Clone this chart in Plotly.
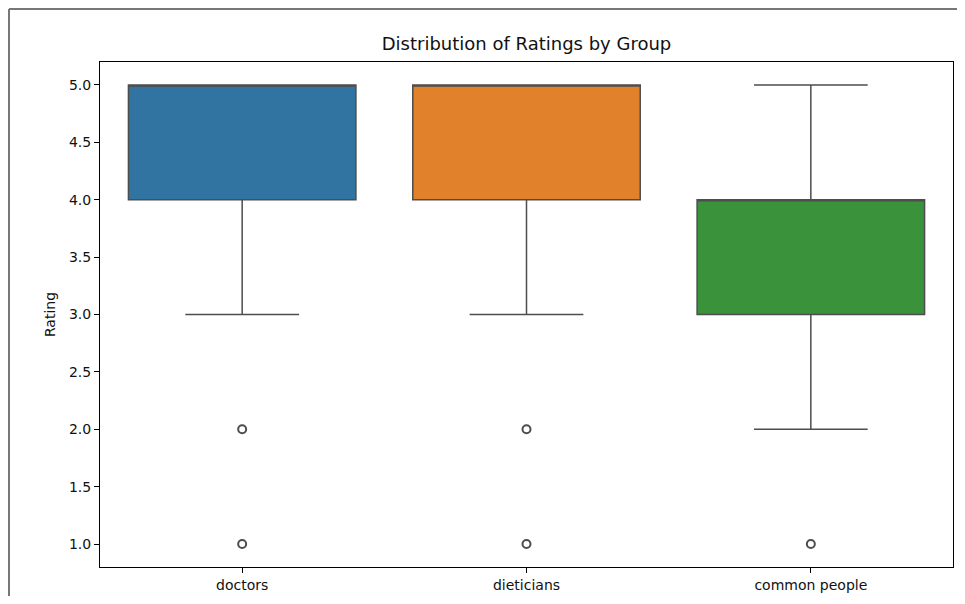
import plotly.graph_objects as go

groups = ["doctors", "dieticians", "common people"]
q1 = [4.0, 4.0, 3.0]
median = [5.0, 5.0, 4.0]
q3 = [5.0, 5.0, 4.0]
lower_fence = [3.0, 3.0, 2.0]
upper_fence = [5.0, 5.0, 5.0]
outliers = {
    "doctors": [1.0, 2.0],
    "dieticians": [1.0, 2.0],
    "common people": [1.0],
}
colors = ["#3274a1", "#e1812c", "#3a923a"]
line_color = "#4d4d4d"

fig = go.Figure()
for i, g in enumerate(groups):
    fig.add_trace(go.Box(
        x=[g], q1=[q1[i]], median=[median[i]], q3=[q3[i]],
        lowerfence=[lower_fence[i]], upperfence=[upper_fence[i]],
        fillcolor=colors[i], line=dict(color=line_color, width=1.5),
        width=0.8, whiskerwidth=0.5, boxpoints=False, showlegend=False,
    ))
    fig.add_trace(go.Scatter(
        x=[g] * len(outliers[g]), y=outliers[g], mode="markers",
        marker=dict(symbol="circle-open", size=8, color=line_color,
                    line=dict(width=2, color=line_color)),
        showlegend=False, hoverinfo="skip",
    ))

OFF = 8  # page body margin
L, R, T, B = 100 - OFF, 953 - OFF, 62 - OFF, 567 - OFF
W, H = 965 - 2 * OFF, 604 - 2 * OFF
px = lambda x: (x - L) / (R - L)
py = lambda y: (B - y) / (B - T)

fig.update_layout(
    width=W, height=H,
    margin=dict(l=L, r=W - R, t=T, b=H - B, pad=0),
    plot_bgcolor="white", paper_bgcolor="white",
    font=dict(family="DejaVu Sans", size=14, color="#111111"),
    title=dict(text="Distribution of Ratings by Group", xref="paper", x=0.5, xanchor="center",
               yref="container", y=1 - (44 - OFF) / H, yanchor="middle",
               font=dict(size=18, color="#111111")),
    xaxis=dict(type="category", range=[-0.5, 2.5], showline=True, mirror=True,
               linecolor="black", linewidth=1, ticks="outside", ticklen=5,
               tickcolor="black", showgrid=False, zeroline=False),
    yaxis=dict(range=[0.8, 5.2], dtick=0.5, tick0=1.0, tickformat=".1f",
               showline=True, mirror=True, linecolor="black", linewidth=1,
               ticks="outside", ticklen=5, tickcolor="black", showgrid=False,
               zeroline=False, title=dict(text="Rating", standoff=10, font=dict(size=14))),
    shapes=[
        dict(type="line", xref="paper", yref="paper", x0=px(1), x1=px(1),
             y0=py(1), y1=py(H + 20), line=dict(color="#777777", width=2)),
        dict(type="line", xref="paper", yref="paper", x0=px(1), x1=px(W + 20),
             y0=py(1), y1=py(1), line=dict(color="#777777", width=2)),
    ],
)

fig.write_html("out.html")
